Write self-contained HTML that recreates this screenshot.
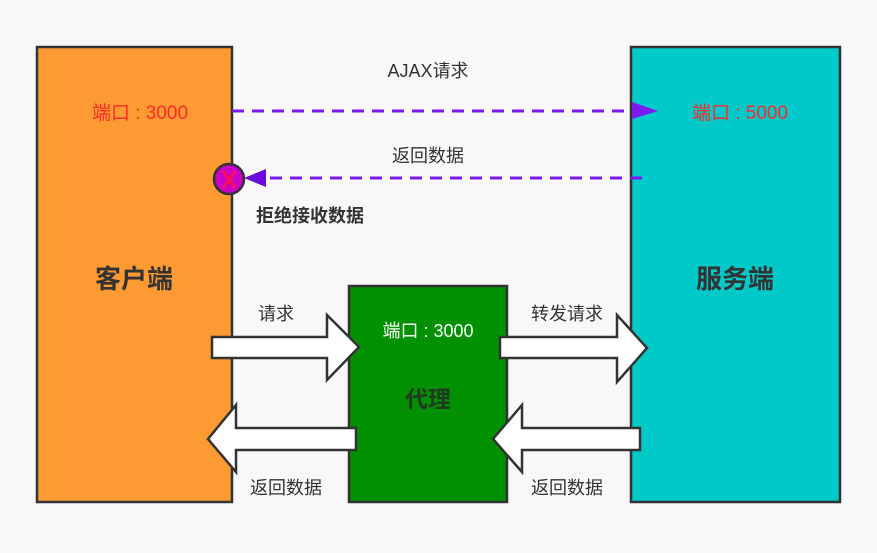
<!DOCTYPE html>
<html><head><meta charset="utf-8"><style>
body{margin:0;width:877px;height:553px;background:#f8f8fa;overflow:hidden}
svg{display:block}
text{font-family:"Liberation Sans","Noto Sans CJK SC",sans-serif}
</style></head><body>
<svg width="877" height="553" viewBox="0 0 877 553">
<rect x="0" y="0" width="877" height="553" fill="#f8f8fa"/>
<rect x="37" y="47" width="195" height="455" fill="#fd9a32" stroke="#333" stroke-width="2.5"/>
<rect x="631" y="47" width="209" height="455" fill="#00c9c9" stroke="#333" stroke-width="2.5"/>
<rect x="349" y="286" width="158" height="216" fill="#009000" stroke="#333" stroke-width="2.5"/>
<line x1="232" y1="111" x2="634" y2="111" stroke="#7a1aef" stroke-width="3" stroke-dasharray="12,8"/>
<polygon points="632,102 658,111 632,119" fill="#7a1aef"/>
<line x1="642" y1="178" x2="262" y2="178" stroke="#7a1aef" stroke-width="3" stroke-dasharray="12,8"/>
<polygon points="266,169 244,178 266,187" fill="#6a0ad8"/>
<circle cx="229" cy="179" r="15" fill="#c800c8" stroke="#333" stroke-width="2.5"/>
<path d="M223,171 L235,188 M235,171 L223,188" stroke="#ff1050" stroke-width="3"/>
<g fill="#fff" stroke="#333" stroke-width="2.5">
<polygon points="212,337 327,337 327,315 359,347 327,380 327,358 212,358"/>
<polygon points="500,337 617,337 617,315 647,348 617,382 617,358 500,358"/>
<polygon points="356,428 236,428 236,405 208,439 236,472 236,450 356,450"/>
<polygon points="640,428 522,428 522,405 493,439 522,472 522,450 640,450"/>
</g>
<g font-size="18" fill="#333" text-anchor="middle">
<text x="428" y="77">AJAX请求</text>
<text x="428" y="162">返回数据</text>
<text x="276" y="320">请求</text>
<text x="567" y="320">转发请求</text>
<text x="286" y="494">返回数据</text>
<text x="567" y="494">返回数据</text>
</g>
<text x="140" y="119" font-size="19" fill="#ff2a2a" text-anchor="middle">端口 : 3000</text>
<text x="740" y="119" font-size="19" fill="#ff2a2a" text-anchor="middle">端口 : 5000</text>
<text x="428" y="337" font-size="18" fill="#fff" text-anchor="middle">端口 : 3000</text>
<text x="310" y="222" font-size="18" font-weight="bold" fill="#333" text-anchor="middle">拒绝接收数据</text>
<text x="134" y="288" font-size="26" font-weight="bold" fill="#333" text-anchor="middle">客户端</text>
<text x="735" y="288" font-size="26" font-weight="bold" fill="#333" text-anchor="middle">服务端</text>
<text x="428" y="407" font-size="23" font-weight="bold" fill="#1f3a1f" text-anchor="middle">代理</text>
</svg>
</body></html>
